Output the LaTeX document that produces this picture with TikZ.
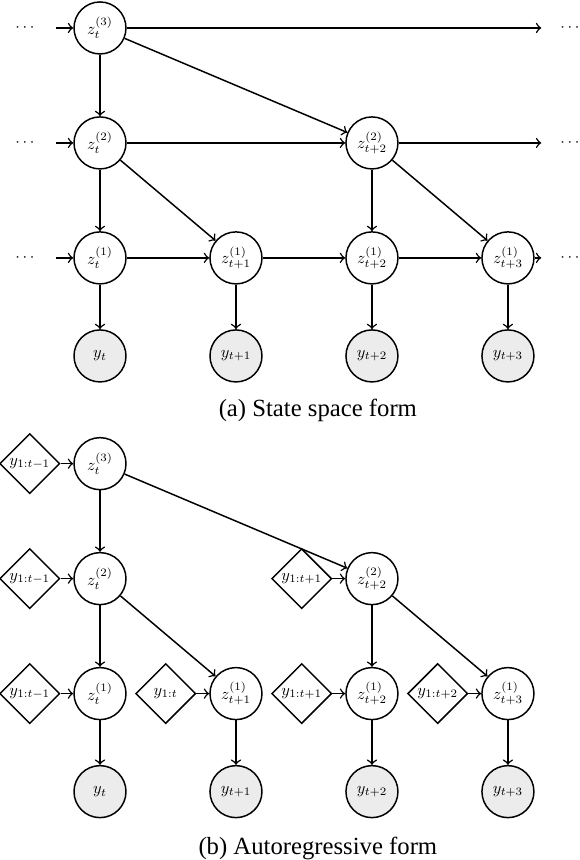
\documentclass[tikz,border=0pt]{standalone}
\usepackage{amsmath}
\usepackage{graphicx}
\usepackage{fontspec}
\usepackage{tikz}
\usetikzlibrary{shapes.geometric, arrows, positioning}
\newfontfamily\capfont{Liberation Serif}
\newcommand{\vlab}[1]{\scalebox{0.66}{$#1$}}

\begin{document}
\begin{tikzpicture}[node distance=1.636cm and 1.935cm, on grid,
  latent/.style={circle, draw=black, semithick, minimum size=0.74cm,
    inner sep=0pt},
  obs/.style={latent, fill=gray!15},
  hist/.style={diamond, aspect=1, draw=black, semithick,
    minimum size=0.855cm, inner sep=0pt},
  ellip/.style={inner xsep=7.5pt},
  arr/.style={->, semithick}]
  \useasboundingbox (-1.423,0.398) rectangle (6.830,-11.84);

  % (a) state space form
  \node (z3) [latent] {\vlab{z_t^{(3)}}};
  \node (z2) [latent, below = of z3] {\vlab{z_t^{(2)}}};
  \node (z1) [latent, below = of z2] {\vlab{z_t^{(1)}}};
  \node (y0) [obs, below = 1.395cm of z1] {\vlab{y_t}};

  \node (z1p1) [latent, right = of z1] {\vlab{z_{t+1}^{(1)}}};
  \node (y1) [obs, below = 1.395cm of z1p1] {\vlab{y_{t+1}}};
  \node (z1p2) [latent, right = of z1p1] {\vlab{z_{t+2}^{(1)}}};
  \node (z2p2) [latent, above = of z1p2] {\vlab{z_{t+2}^{(2)}}};
  \node (y2) [obs, below = 1.395cm of z1p2] {\vlab{y_{t+2}}};
  \node (z1p3) [latent, right = of z1p2] {\vlab{z_{t+3}^{(1)}}};
  \node (y3) [obs, below = 1.395cm of z1p3] {\vlab{y_{t+3}}};

  \node (l3) [ellip, left = 1.05cm of z3] {\vlab{\cdots}};
  \node (l2) [ellip, left = 1.05cm of z2] {\vlab{\cdots}};
  \node (l1) [ellip, left = 1.05cm of z1] {\vlab{\cdots}};
  \node (r1) [ellip, right = 0.9cm of z1p3] {\vlab{\cdots}};
  \node (r2) [ellip, above = of r1] {\vlab{\cdots}};
  \node (r3) [ellip, above = of r2] {\vlab{\cdots}};

  \draw[arr] (l3) -- (z3);
  \draw[arr] (l2) -- (z2);
  \draw[arr] (l1) -- (z1);
  \draw[arr] (z3) -- (r3);
  \draw[arr] (z3) -- (z2);
  \draw[arr] (z3) -- (z2p2);
  \draw[arr] (z2) -- (z2p2);
  \draw[arr] (z2p2) -- (r2);
  \draw[arr] (z2) -- (z1);
  \draw[arr] (z2) -- (z1p1);
  \draw[arr] (z2p2) -- (z1p2);
  \draw[arr] (z2p2) -- (z1p3);
  \draw[arr] (z1) -- (z1p1);
  \draw[arr] (z1p1) -- (z1p2);
  \draw[arr] (z1p2) -- (z1p3);
  \draw[arr] (z1p3) -- (r1);
  \draw[arr] (z1) -- (y0);
  \draw[arr] (z1p1) -- (y1);
  \draw[arr] (z1p2) -- (y2);
  \draw[arr] (z1p3) -- (y3);

  \node (capa) at (3.10,-5.44) {\capfont (a) State space form};

  % (b) autoregressive form
  \node (az3) [latent, below = 6.20cm of z3] {\vlab{z_t^{(3)}}};
  \node (az2) [latent, below = of az3] {\vlab{z_t^{(2)}}};
  \node (az1) [latent, below = of az2] {\vlab{z_t^{(1)}}};
  \node (ay0) [obs, below = 1.395cm of az1] {\vlab{y_t}};

  \node (az1p1) [latent, right = of az1] {\vlab{z_{t+1}^{(1)}}};
  \node (ay1) [obs, below = 1.395cm of az1p1] {\vlab{y_{t+1}}};
  \node (az1p2) [latent, right = of az1p1] {\vlab{z_{t+2}^{(1)}}};
  \node (az2p2) [latent, above = of az1p2] {\vlab{z_{t+2}^{(2)}}};
  \node (ay2) [obs, below = 1.395cm of az1p2] {\vlab{y_{t+2}}};
  \node (az1p3) [latent, right = of az1p2] {\vlab{z_{t+3}^{(1)}}};
  \node (ay3) [obs, below = 1.395cm of az1p3] {\vlab{y_{t+3}}};

  \node (h3) [hist, left = 1cm of az3] {\vlab{y_{1:t-1}}};
  \node (h2) [hist, left = 1cm of az2] {\vlab{y_{1:t-1}}};
  \node (h1) [hist, left = 1cm of az1] {\vlab{y_{1:t-1}}};
  \node (h1p1) [hist, left = 1cm of az1p1] {\vlab{y_{1:t}}};
  \node (h2p2) [hist, left = 1cm of az2p2] {\vlab{y_{1:t+1}}};
  \node (h1p2) [hist, left = 1cm of az1p2] {\vlab{y_{1:t+1}}};
  \node (h1p3) [hist, left = 1cm of az1p3] {\vlab{y_{1:t+2}}};

  \draw[arr] (h3) -- (az3);
  \draw[arr] (h2) -- (az2);
  \draw[arr] (h1) -- (az1);
  \draw[arr] (h1p1) -- (az1p1);
  \draw[arr] (h2p2) -- (az2p2);
  \draw[arr] (h1p2) -- (az1p2);
  \draw[arr] (h1p3) -- (az1p3);
  \draw[arr] (az3) -- (az2);
  \draw[arr] (az3) -- (az2p2);
  \draw[arr] (az2) -- (az1);
  \draw[arr] (az2) -- (az1p1);
  \draw[arr] (az2p2) -- (az1p2);
  \draw[arr] (az2p2) -- (az1p3);
  \draw[arr] (az1) -- (ay0);
  \draw[arr] (az1p1) -- (ay1);
  \draw[arr] (az1p2) -- (ay2);
  \draw[arr] (az1p3) -- (ay3);

  \node (capb) at (3.10,-11.67) {\capfont (b) Autoregressive form};
\end{tikzpicture}
\end{document}
